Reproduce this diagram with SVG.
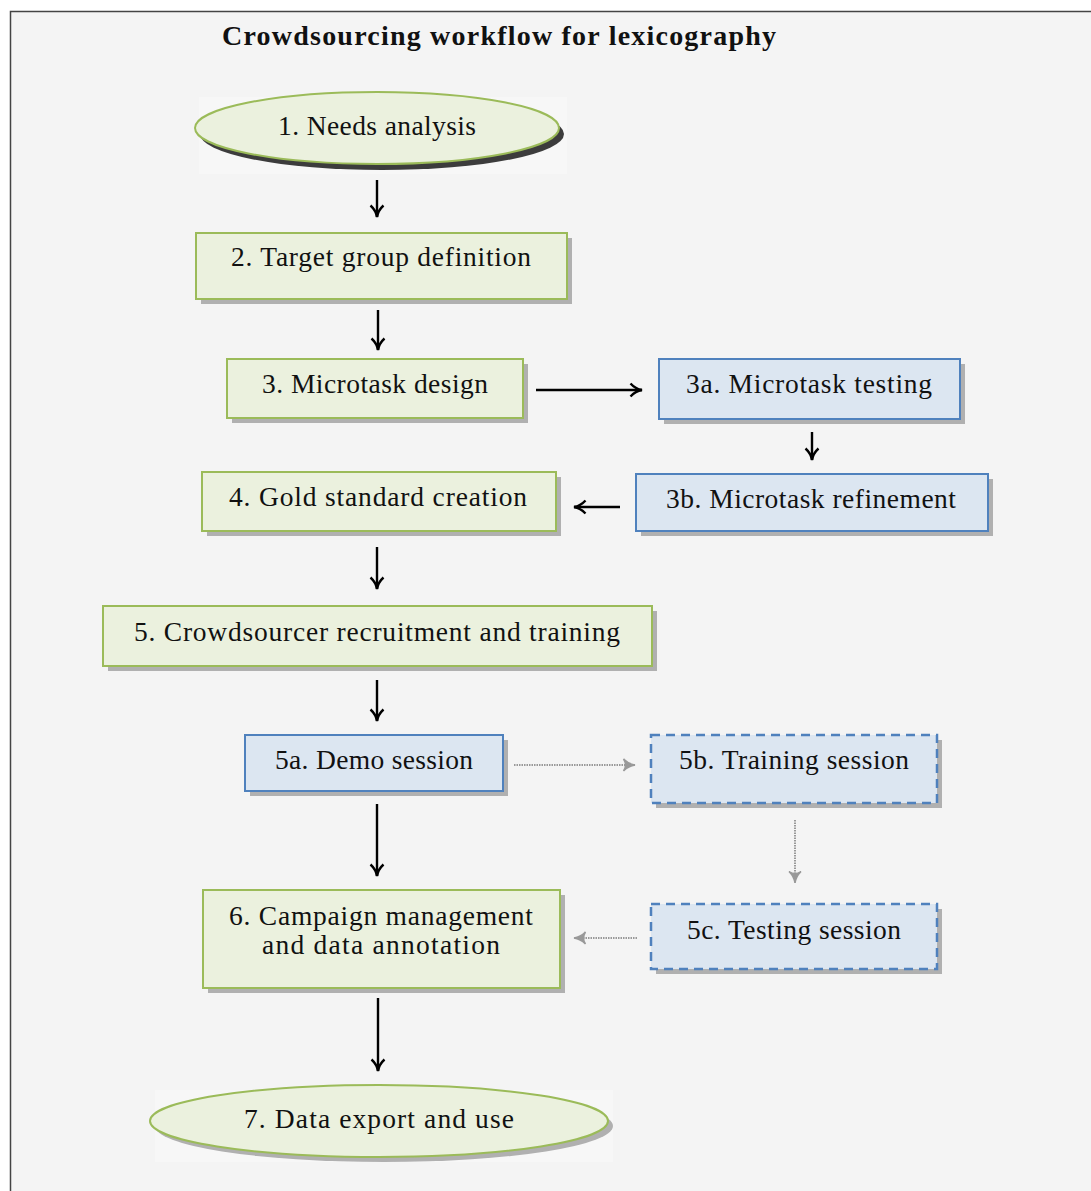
<svg xmlns="http://www.w3.org/2000/svg" width="1091" height="1191" viewBox="0 0 1091 1191">
<defs>
<style>
.t{font-family:"Liberation Serif","DejaVu Serif",serif;font-size:27.5px;fill:#111;text-anchor:middle}
.title{font-family:"Liberation Serif","DejaVu Serif",serif;font-size:28px;font-weight:bold;fill:#111}
.g{fill:#ebf1de;stroke:#9bbb59;stroke-width:2}
.b{fill:#dce6f1;stroke:#4f81bd;stroke-width:2}
.bd{fill:#dce6f1;stroke:#4f81bd;stroke-width:2.5;stroke-dasharray:9,6}
.sh{fill:#b0b0b0}
.c{stroke:#000;stroke-width:2.4;fill:none;marker-end:url(#ah)}
.d{stroke:#999;stroke-width:2;stroke-dasharray:1.5,1;fill:none;marker-end:url(#ahg)}
</style>
<marker id="ah" viewBox="0 0 16 16" refX="13.5" refY="8" markerWidth="16" markerHeight="16" markerUnits="userSpaceOnUse" orient="auto">
<path d="M2,1.5 Q7,7 13.5,8 Q7,9 2,14.5" fill="none" stroke="#000" stroke-width="2.4"/>
</marker>
<marker id="ahg" viewBox="0 0 16 16" refX="13.5" refY="8" markerWidth="16" markerHeight="16" markerUnits="userSpaceOnUse" orient="auto">
<path d="M2,2 Q7,7 13.5,8 Q7,9 2,14 Q6,8 2,2Z" fill="#999" stroke="#999" stroke-width="1.5"/>
</marker>
</defs>
<rect x="0" y="0" width="1091" height="1191" fill="#fff"/>
<rect x="10.5" y="11.5" width="1090" height="1190" fill="#f4f4f4" stroke="#444" stroke-width="1.5"/>
<text class="title" x="222" y="45" textLength="554">Crowdsourcing workflow for lexicography</text>

<g id="connectors">
<path class="c" d="M377,180 V217"/>
<path class="c" d="M378,310 V350"/>
<path class="c" d="M536,390 H642"/>
<path class="c" d="M812,432 V460"/>
<path class="c" d="M620,507 H574"/>
<path class="c" d="M377,547 V589"/>
<path class="c" d="M377,680 V721"/>
<path class="d" d="M514,765 H635"/>
<path class="d" d="M795,820 V883"/>
<path class="d" d="M637,938 H574"/>
<path class="c" d="M377,804 V876"/>
<path class="c" d="M378,998 V1071"/>
</g>

<g id="n1">
<rect x="199" y="97" width="368" height="77" fill="#f7f7f7"/>
<ellipse cx="382" cy="134" rx="182" ry="36" fill="#3c3c3c"/>
<ellipse class="g" cx="377" cy="128" rx="182" ry="36"/>
<text class="t" x="377" y="135" textLength="198">1. Needs analysis</text>
</g>

<g id="n2">
<rect class="sh" x="201" y="238" width="371" height="66"/>
<rect class="g" x="196" y="233" width="371" height="66"/>
<text class="t" x="381" y="266" textLength="300">2. Target group definition</text>
</g>

<g id="n3">
<rect class="sh" x="232" y="364" width="296" height="59"/>
<rect class="g" x="227" y="359" width="296" height="59"/>
<text class="t" x="375" y="393" textLength="226">3. Microtask design</text>
</g>

<g id="n3a">
<rect class="sh" x="664" y="364" width="301" height="60"/>
<rect class="b" x="659" y="359" width="301" height="60"/>
<text class="t" x="809" y="393" textLength="246">3a. Microtask testing</text>
</g>

<g id="n3b">
<rect class="sh" x="641" y="479" width="352" height="57"/>
<rect class="b" x="636" y="474" width="352" height="57"/>
<text class="t" x="811" y="508" textLength="290">3b. Microtask refinement</text>
</g>

<g id="n4">
<rect class="sh" x="207" y="477" width="354" height="59"/>
<rect class="g" x="202" y="472" width="354" height="59"/>
<text class="t" x="378" y="506" textLength="298">4. Gold standard creation</text>
</g>

<g id="n5">
<rect class="sh" x="108" y="611" width="549" height="60"/>
<rect class="g" x="103" y="606" width="549" height="60"/>
<text class="t" x="377" y="641" textLength="486">5. Crowdsourcer recruitment and training</text>
</g>

<g id="n5a">
<rect class="sh" x="250" y="740" width="258" height="56"/>
<rect class="b" x="245" y="735" width="258" height="56"/>
<text class="t" x="374" y="769" textLength="198">5a. Demo session</text>
</g>

<g id="n5b">
<rect class="sh" x="656" y="740" width="286" height="68"/>
<rect class="bd" x="651" y="735" width="286" height="68"/>
<text class="t" x="794" y="769" textLength="230">5b. Training session</text>
</g>

<g id="n5c">
<rect class="sh" x="656" y="909" width="286" height="65"/>
<rect class="bd" x="651" y="904" width="286" height="65"/>
<text class="t" x="794" y="939" textLength="214">5c. Testing session</text>
</g>

<g id="n6">
<rect class="sh" x="208" y="895" width="357" height="98"/>
<rect class="g" x="203" y="890" width="357" height="98"/>
<text class="t" x="381" y="925" textLength="304">6. Campaign management</text>
<text class="t" x="381" y="954" textLength="238">and data annotation</text>
</g>

<g id="n7">
<rect x="155" y="1090" width="458" height="72" fill="#f7f7f7"/>
<ellipse cx="384" cy="1126" rx="229" ry="36" fill="#b0b0b0"/>
<ellipse class="g" cx="379" cy="1121" rx="229" ry="36"/>
<text class="t" x="379" y="1128" textLength="270">7. Data export and use</text>
</g>
</svg>
